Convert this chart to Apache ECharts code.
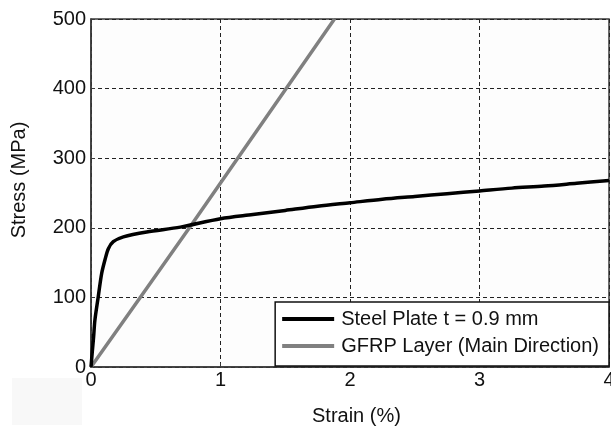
<!DOCTYPE html>
<html>
<head>
<meta charset="utf-8">
<script src="https://cdn.jsdelivr.net/npm/echarts@6/dist/echarts.min.js"></script>
<style>html,body{margin:0;padding:0;background:#fff;}#c{width:611px;height:429px;}</style>
</head>
<body>
<div id="c"></div>
<script>
const steelStrain = [0, 0.01, 0.02, 0.03, 0.056, 0.082, 0.108, 0.134, 0.172, 0.25, 0.43, 0.69, 1.0, 1.25, 1.5, 1.75, 2.0, 2.25, 2.5, 2.75, 3.0, 3.25, 3.5, 3.75, 4.0];
const steelStress = [0, 22, 43, 67, 101, 134, 154, 170, 180, 187, 194, 201, 213, 219, 225, 231, 236, 241, 245, 249, 253, 257, 260, 264, 268];
const gfrpStrain = [0, 0.38, 0.76, 1.88];
const gfrpStress = [0, 100, 200, 500];
const xTicks = [0, 1, 2, 3, 4];
const yTicks = [0, 100, 200, 300, 400, 500];
const seriesNames = ['Steel Plate t = 0.9 mm', 'GFRP Layer (Main Direction)'];
const axisTitles = ['Strain (%)', 'Stress (MPa)'];

const font = 'Liberation Sans, Arial, sans-serif';
const chart = echarts.init(document.getElementById('c'), null, {renderer: 'canvas'});
const zip = (a, b) => a.map((v, i) => [v, b[i]]);

chart.setOption({
  animation: false,
  backgroundColor: '#fff',
  grid: {left: 91, top: 19, right: 2, bottom: 62, show: true, borderColor: '#3a3a3a', borderWidth: 1.5, backgroundColor: '#fdfdfd',
         containLabel: false, outerBoundsMode: 'none'},
  xAxis: {
    type: 'value', min: xTicks[0], max: xTicks[xTicks.length - 1], interval: 1,
    axisLine: {show: true, lineStyle: {color: '#3a3a3a', width: 1.5}},
    axisTick: {show: true, inside: true, length: 4, lineStyle: {color: '#3a3a3a'}},
    axisLabel: {color: '#111', fontSize: 20, fontFamily: font, margin: 3, showMaxLabel: true, hideOverlap: false},
    splitLine: {show: true, lineStyle: {color: '#222', type: [4, 3], width: 1}}
  },
  yAxis: {
    type: 'value', min: yTicks[0], max: yTicks[yTicks.length - 1], interval: 100,
    axisLine: {show: true, lineStyle: {color: '#3a3a3a', width: 1.5}},
    axisTick: {show: true, inside: true, length: 4, lineStyle: {color: '#3a3a3a'}},
    axisLabel: {color: '#111', fontSize: 20, fontFamily: font, margin: 5},
    splitLine: {show: true, lineStyle: {color: '#222', type: [4, 3], width: 1}}
  },
  legend: {
    orient: 'vertical', right: 2, top: 302,
    backgroundColor: '#fff', borderColor: '#111', borderWidth: 1.5, borderRadius: 0,
    padding: [7, 10, 10, 7], itemGap: 7,
    icon: 'rect', itemWidth: 52, itemHeight: 4,
    textStyle: {fontSize: 20, fontFamily: font, color: '#111', padding: [0, 0, 0, 2]},
    data: seriesNames
  },
  graphic: [
    {type: 'rect', left: 12, top: 378, shape: {width: 70, height: 47}, style: {fill: '#f8f8f8'}, z: -1},
    {type: 'text', left: 312, top: 406, style: {text: axisTitles[0], font: '20px ' + font, fill: '#111'}},
    {type: 'text', x: 9, y: 180, rotation: Math.PI / 2, style: {text: axisTitles[1], font: '20px ' + font, fill: '#111', align: 'center', verticalAlign: 'top'}}
  ],
  series: [
    {name: seriesNames[0], type: 'line', data: zip(steelStrain, steelStress), symbol: 'none', smooth: 0.3,
     lineStyle: {color: '#000', width: 3.5}, itemStyle: {color: '#000'}, clip: true, z: 3},
    {name: seriesNames[1], type: 'line', data: zip(gfrpStrain, gfrpStress), symbol: 'none',
     lineStyle: {color: '#808080', width: 3.5}, itemStyle: {color: '#808080'}, clip: true, z: 2}
  ]
});
</script>
</body>
</html>
